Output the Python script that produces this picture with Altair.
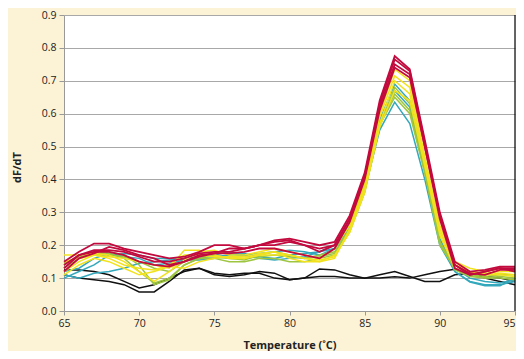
import altair as alt
import pandas as pd

temps = list(range(65, 96))

red_series = {
    "R1": [0.15,0.18,0.205,0.205,0.19,0.18,0.17,0.16,0.165,0.18,0.20,0.20,0.19,0.20,0.215,0.22,0.21,0.20,0.21,
           0.29,0.42,0.64,0.775,0.735,0.52,0.30,0.15,0.12,0.125,0.135,0.135],
    "R2": [0.14,0.17,0.185,0.185,0.18,0.165,0.15,0.15,0.16,0.175,0.18,0.18,0.19,0.20,0.20,0.21,0.20,0.19,0.20,
           0.28,0.41,0.63,0.765,0.73,0.51,0.29,0.14,0.11,0.12,0.13,0.13],
    "R3": [0.12,0.16,0.175,0.195,0.185,0.17,0.16,0.14,0.15,0.165,0.175,0.19,0.19,0.20,0.21,0.215,0.20,0.18,0.20,
           0.28,0.41,0.62,0.75,0.72,0.50,0.29,0.14,0.115,0.11,0.125,0.125],
    "R4": [0.13,0.17,0.18,0.18,0.17,0.15,0.14,0.135,0.15,0.17,0.175,0.175,0.18,0.19,0.19,0.18,0.17,0.16,0.19,
           0.27,0.40,0.61,0.74,0.71,0.50,0.28,0.13,0.11,0.12,0.13,0.12],
}
yellow_series = {
    "Y1": [0.17,0.17,0.175,0.17,0.15,0.12,0.09,0.12,0.155,0.18,0.185,0.17,0.17,0.18,0.19,0.18,0.17,0.16,0.19,
           0.26,0.39,0.60,0.735,0.70,0.47,0.26,0.15,0.13,0.12,0.13,0.125],
    "Y2": [0.12,0.15,0.17,0.165,0.16,0.15,0.14,0.13,0.185,0.185,0.17,0.16,0.16,0.17,0.17,0.17,0.16,0.15,0.16,
           0.25,0.38,0.59,0.715,0.68,0.46,0.25,0.14,0.12,0.115,0.12,0.12],
    "Y3": [0.11,0.14,0.16,0.15,0.13,0.11,0.12,0.135,0.13,0.15,0.16,0.165,0.16,0.17,0.18,0.16,0.15,0.15,0.17,
           0.24,0.37,0.57,0.70,0.66,0.45,0.24,0.14,0.12,0.11,0.115,0.11],
    "Y4": [0.15,0.16,0.17,0.16,0.14,0.13,0.125,0.14,0.17,0.17,0.165,0.165,0.165,0.175,0.18,0.17,0.16,0.155,0.165,
           0.24,0.36,0.56,0.67,0.64,0.44,0.23,0.13,0.115,0.11,0.11,0.105],
}
green_series = {
    "G1": [0.14,0.17,0.18,0.175,0.16,0.12,0.085,0.10,0.14,0.16,0.16,0.15,0.15,0.16,0.16,0.15,0.15,0.16,0.17,
           0.24,0.36,0.56,0.68,0.63,0.43,0.21,0.13,0.11,0.105,0.11,0.11],
    "G2": [0.13,0.16,0.17,0.18,0.17,0.14,0.08,0.095,0.14,0.16,0.17,0.16,0.155,0.17,0.18,0.17,0.16,0.17,0.18,
           0.25,0.37,0.57,0.66,0.61,0.42,0.20,0.13,0.11,0.10,0.105,0.10],
    "G3": [0.145,0.165,0.175,0.17,0.165,0.15,0.13,0.12,0.15,0.165,0.165,0.16,0.16,0.165,0.17,0.165,0.16,0.165,0.175,
           0.245,0.365,0.565,0.65,0.60,0.42,0.21,0.125,0.105,0.10,0.10,0.095],
}
teal_series = {
    "T1": [0.11,0.10,0.115,0.12,0.13,0.145,0.15,0.155,0.16,0.165,0.165,0.17,0.175,0.165,0.16,0.17,0.175,0.18,0.19,
           0.26,0.38,0.58,0.69,0.64,0.44,0.22,0.13,0.10,0.09,0.085,0.095],
    "T2": [0.12,0.13,0.16,0.175,0.165,0.16,0.14,0.145,0.155,0.16,0.17,0.18,0.17,0.175,0.18,0.185,0.18,0.17,0.19,
           0.25,0.37,0.57,0.67,0.62,0.43,0.21,0.12,0.09,0.08,0.08,0.09],
    "T3": [0.10,0.12,0.14,0.17,0.175,0.17,0.16,0.16,0.155,0.155,0.16,0.165,0.17,0.16,0.155,0.16,0.165,0.18,0.20,
           0.26,0.37,0.55,0.635,0.57,0.40,0.20,0.12,0.088,0.077,0.077,0.10],
}
black_series = {
    "K1": [0.125,0.125,0.12,0.11,0.09,0.07,0.08,0.10,0.12,0.13,0.11,0.105,0.11,0.12,0.115,0.095,0.10,0.128,0.125,
           0.11,0.10,0.11,0.12,0.105,0.09,0.09,0.11,0.115,0.10,0.09,0.08],
    "K2": [0.11,0.10,0.095,0.09,0.08,0.058,0.058,0.09,0.125,0.13,0.115,0.11,0.115,0.115,0.10,0.095,0.10,0.105,0.105,
           0.10,0.10,0.10,0.104,0.10,0.11,0.12,0.127,0.11,0.105,0.10,0.09],
}

x_ticks = [65, 70, 75, 80, 85, 90, 95]
y_ticks = [0, 0.1, 0.2, 0.3, 0.4, 0.5, 0.6, 0.7, 0.8, 0.9]

groups = [
    (black_series, "#111111", 1.5),
    (teal_series, "#33A8BC", 1.5),
    (green_series, "#9DC53F", 1.5),
    (yellow_series, "#F2E21E", 1.5),
    (red_series, "#C20A3E", 1.8),
]

FONT = "Open Sans"
x_scale = alt.Scale(domain=[65, 95], nice=False)
y_scale = alt.Scale(domain=[0, 0.9], nice=False)

x_axis = alt.Axis(values=x_ticks, title="Temperature (˚C)", grid=False, labelFontSize=10.5,
                  labelFont=FONT, labelColor="#222222", titleFont=FONT, titleFontSize=11,
                  titleFontWeight="bold", titleColor="#222222", domainColor="#999999",
                  tickColor="#999999", tickSize=4, labelPadding=3, titlePadding=11,
                  labelFlush=False,
                  labelAlign=alt.condition("datum.value >= 95", alt.value("right"), alt.value("center")))
y_axis = alt.Axis(values=y_ticks, title="dF/dT", grid=True, gridColor="#A8A8A8", gridWidth=1,
                  labelFontSize=10.5, labelFont=FONT, labelColor="#222222", titleFont=FONT,
                  titleFontSize=11, titleFontWeight="bold", titleColor="#222222",
                  domainColor="#999999", tickColor="#999999", tickSize=5, labelPadding=3,
                  titleX=-47, titleY=152, titleAngle=-90, titleAlign="center",
                  titleBaseline="middle", labelFlush=False)

layers = []
for series, color, sw in groups:
    rows = []
    for name, vals in series.items():
        for t, v in zip(temps, vals):
            rows.append({"T": t, "v": v, "s": name})
    df = pd.DataFrame(rows)
    layers.append(
        alt.Chart(df).mark_line(color=color, strokeWidth=sw, strokeJoin="miter").encode(
            x=alt.X("T:Q", scale=x_scale, axis=x_axis),
            y=alt.Y("v:Q", scale=y_scale, axis=y_axis),
            detail="s:N",
        )
    )

border = alt.Chart(pd.DataFrame({"T": [95], "v": [0], "b": [0.9]})).mark_rule(
    color="#000000", strokeWidth=1.2
).encode(
    x=alt.X("T:Q", scale=x_scale, axis=x_axis),
    y=alt.Y("v:Q", scale=y_scale, axis=y_axis),
    y2="b:Q",
)
layers.append(border)

chart = alt.layer(*layers).properties(
    width=451, height=296,
    autosize=alt.AutoSizeParams(type="none"),
    padding={"left": 56, "top": 7, "right": 1, "bottom": 40},
    background="#FCF3D6",
).configure_view(fill="#FFFFFF", stroke=None)

chart.save("out.html", embed_options={"renderer": "svg", "actions": False})
